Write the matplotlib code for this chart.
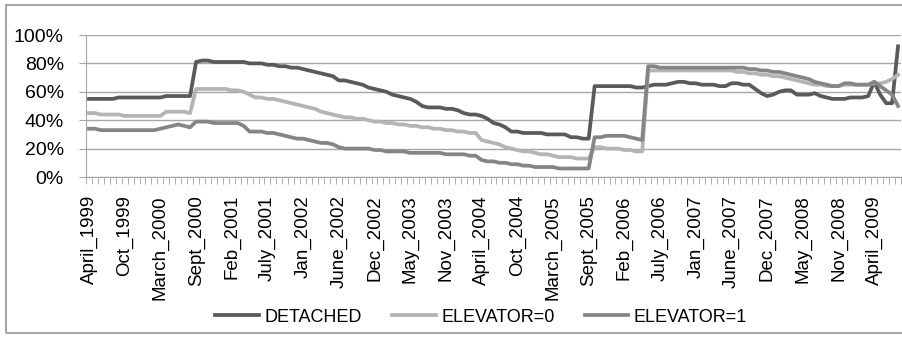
import matplotlib.pyplot as plt
from matplotlib.patches import Rectangle
import numpy as np

plt.rcParams['font.family'] = ['Liberation Sans', 'DejaVu Sans']

# shown month labels, one every 6 categories
tick_labels = ["April_1999", "Oct_1999", "March_2000", "Sept_2000", "Feb_2001",
               "July_2001", "Jan_2002", "June_2002", "Dec_2002", "May_2003",
               "Nov_2003", "April_2004", "Oct_2004", "March_2005", "Sept_2005",
               "Feb_2006", "July_2006", "Jan_2007", "June_2007", "Dec_2007",
               "May_2008", "Nov_2008", "April_2009"]
LABEL_STEP = 6

detached = [55, 55, 55, 55, 55, 56, 56, 56, 56, 56,
            56, 56, 56, 57, 57, 57, 57, 57, 81, 82,
            82, 81, 81, 81, 81, 81, 81, 80, 80, 80,
            79, 79, 78, 78, 77, 77, 76, 75, 74, 73,
            72, 71, 68, 68, 67, 66, 65, 63, 62, 61,
            60, 58, 57, 56, 55, 53, 50, 49, 49, 49,
            48, 48, 47, 45, 44, 44, 43, 41, 38, 37,
            35, 32, 32, 31, 31, 31, 31, 30, 30, 30,
            30, 28, 28, 27, 27, 64, 64, 64, 64, 64,
            64, 64, 63, 63, 64, 65, 65, 65, 66, 67,
            67, 66, 66, 65, 65, 65, 64, 64, 66, 66,
            65, 65, 62, 59, 57, 58, 60, 61, 61, 58,
            58, 58, 59, 57, 56, 55, 55, 55, 56, 56,
            56, 57, 67, 58, 52, 52, 92]

elevator0 = [45, 45, 44, 44, 44, 44, 43, 43, 43, 43,
             43, 43, 43, 46, 46, 46, 46, 45, 62, 62,
             62, 62, 62, 62, 61, 61, 60, 58, 56, 56,
             55, 55, 54, 53, 52, 51, 50, 49, 48, 46,
             45, 44, 43, 42, 42, 41, 41, 40, 39, 39,
             38, 38, 37, 37, 36, 36, 35, 35, 34, 34,
             33, 33, 32, 32, 31, 31, 26, 25, 24, 23,
             21, 20, 19, 18, 18, 17, 16, 16, 15, 14,
             14, 14, 13, 13, 13, 21, 21, 20, 20, 20,
             19, 19, 18, 18, 75, 75, 75, 75, 75, 75,
             75, 75, 75, 75, 75, 75, 75, 75, 75, 74,
             74, 73, 73, 72, 72, 71, 71, 70, 69, 68,
             67, 66, 65, 65, 64, 64, 64, 65, 65, 65,
             65, 65, 66, 66, 67, 69, 72]

elevator1 = [34, 34, 33, 33, 33, 33, 33, 33, 33, 33,
             33, 33, 34, 35, 36, 37, 36, 35, 39, 39,
             39, 38, 38, 38, 38, 38, 36, 32, 32, 32,
             31, 31, 30, 29, 28, 27, 27, 26, 25, 24,
             24, 23, 21, 20, 20, 20, 20, 20, 19, 19,
             18, 18, 18, 18, 17, 17, 17, 17, 17, 17,
             16, 16, 16, 16, 15, 15, 12, 11, 11, 10,
             10, 9, 9, 8, 8, 7, 7, 7, 7, 6,
             6, 6, 6, 6, 6, 28, 28, 29, 29, 29,
             29, 28, 27, 26, 78, 78, 77, 77, 77, 77,
             77, 77, 77, 77, 77, 77, 77, 77, 77, 77,
             77, 76, 76, 75, 75, 74, 74, 73, 72, 71,
             70, 69, 67, 66, 65, 64, 64, 66, 66, 65,
             65, 65, 67, 64, 61, 58, 50]

series = [("DETACHED", detached, "#5a5a5a"),
          ("ELEVATOR=0", elevator0, "#b4b4b4"),
          ("ELEVATOR=1", elevator1, "#858585")]

n = len(detached)
x = np.arange(n)

fig = plt.figure(figsize=(9.03, 3.38), dpi=100)
ax = fig.add_axes([86 / 903, 1 - 177 / 338, 815 / 903, 142 / 338])

for name, vals, col in series:
    ax.plot(x, vals, color=col, lw=2.7, label=name, solid_joinstyle='round')

ax.set_xlim(-0.5, n - 0.5)
ax.set_ylim(0, 100)
ax.set_yticks(np.arange(0, 101, 20))
ax.set_yticklabels([f"{v}%" for v in range(0, 101, 20)], fontsize=14)
ax.yaxis.grid(True, color="#a6a6a6", lw=1)
ax.set_axisbelow(True)

ax.set_xticks(np.arange(len(tick_labels)) * LABEL_STEP)
ax.set_xticklabels(tick_labels, rotation=90, fontsize=13.5)
ax.set_xticks(np.arange(n + 1) - 0.5, minor=True)
ax.tick_params(axis='x', which='major', length=0, pad=13)
ax.tick_params(axis='x', which='minor', length=5, color="#a6a6a6", direction='out')
ax.tick_params(axis='y', length=5, color="#a6a6a6", pad=11)

for s in ['top', 'right']:
    ax.spines[s].set_visible(False)
for s in ['left', 'bottom']:
    ax.spines[s].set_color("#a6a6a6")

fig.legend(loc='center', bbox_to_anchor=(0.533, 1 - 317 / 338), ncol=3,
           frameon=False, fontsize=13, handlelength=2.4, columnspacing=1.7,
           handletextpad=0.3)

# outer chart frame
fig.patches.append(Rectangle((6 / 903, 5 / 338), 1.0, 328 / 338, transform=fig.transFigure,
                             fill=False, edgecolor="#a6a6a6", lw=1.5))

fig.savefig("out.png", dpi=100)
